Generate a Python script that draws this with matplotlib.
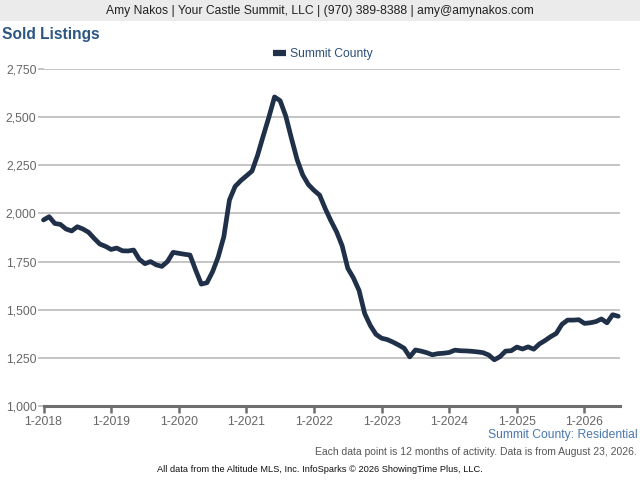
import matplotlib
matplotlib.use("Agg")
import matplotlib.pyplot as plt
from matplotlib.patches import Rectangle

plt.rcParams['font.family'] = ['Liberation Sans', 'DejaVu Sans']

# Monthly values, Jan 2018 .. Jul 2026 (rolling 12-month sold listings)
sold = [
    1966, 1983, 1948, 1943, 1919, 1909, 1931, 1919, 1902, 1870, 1841, 1829,   # 2018
    1813, 1820, 1806, 1805, 1810, 1762, 1739, 1750, 1733, 1725, 1750, 1798,   # 2019
    1793, 1788, 1784, 1706, 1633, 1640, 1697, 1774, 1879, 2070, 2140, 2170,   # 2020
    2195, 2220, 2303, 2403, 2500, 2605, 2585, 2505, 2390, 2280, 2200, 2150,   # 2021
    2120, 2095, 2025, 1962, 1905, 1832, 1715, 1665, 1600, 1480, 1418, 1372,   # 2022
    1352, 1345, 1332, 1317, 1300, 1255, 1291, 1285, 1277, 1266, 1272, 1274,   # 2023
    1278, 1290, 1287, 1286, 1284, 1281, 1277, 1265, 1240, 1256, 1285, 1287,   # 2024
    1306, 1296, 1307, 1295, 1322, 1340, 1360, 1377, 1424, 1446, 1446, 1448,   # 2025
    1429, 1432, 1438, 1452, 1432, 1474, 1466,                                 # 2026
]
x_labels = ["1-2018", "1-2019", "1-2020", "1-2021", "1-2022",
            "1-2023", "1-2024", "1-2025", "1-2026"]
y_ticks = [1000, 1250, 1500, 1750, 2000, 2250, 2500, 2750]
series_name = "Summit County"

fig = plt.figure(figsize=(6.4, 4.8), dpi=100)
fig.patch.set_facecolor("white")

# header band
fig.patches.append(Rectangle((0, 1 - 21/480), 1, 21/480, transform=fig.transFigure,
                             facecolor="#ebebeb", edgecolor="none", zorder=0))
fig.text(0.5, 1 - 11/480, "Amy Nakos | Your Castle Summit, LLC | (970) 389-8388 | amy@amynakos.com",
         ha="center", va="center", fontsize=8.7, color="#222222")
fig.text(2/640, 1 - 35/480, "Sold Listings", ha="left", va="center",
         fontsize=11.2, fontweight="bold", color="#2c5783")

ax = fig.add_axes([43.5/640, 1 - 406/480, (620 - 43.5)/640, (406 - 69)/480])
months = list(range(len(sold)))
line, = ax.plot(months, sold, color="#1f3048", linewidth=3.4, solid_joinstyle="round",
                solid_capstyle="round", label=series_name, zorder=3, clip_on=False)

ax.set_ylim(1000, 2750)
ax.set_xlim(0, (620 - 43.5) / 5.635)
ax.set_yticks(y_ticks)
ax.set_yticklabels([f"{v:,}" for v in y_ticks])
ax.set_xticks([12 * i for i in range(len(x_labels))])
ax.set_xticklabels(x_labels)

ax.grid(axis="y", color="#b4b4b4", linewidth=1.1)
ax.set_axisbelow(True)
for s in ["top", "right", "left"]:
    ax.spines[s].set_visible(False)
ax.spines["bottom"].set_color("#6e6e6e")
ax.spines["bottom"].set_linewidth(2.2)
ax.spines["bottom"].set_zorder(4)
ax.tick_params(axis="y", length=4, width=1.1, color="#b4b4b4", labelsize=8.8,
               labelcolor="#666666", pad=1)
ax.tick_params(axis="x", length=5, width=1.8, color="#6e6e6e", labelsize=8.8,
               labelcolor="#666666", pad=2)

leg = fig.legend(handles=[line], labels=[series_name], loc="center",
                 bbox_to_anchor=(323/640, 1 - 54/480), frameon=False,
                 fontsize=8.7, handlelength=1.0, handletextpad=0.35, borderpad=0)
for t in leg.get_texts():
    t.set_color("#2c5078")
for h in leg.get_lines():
    h.set_linewidth(4.5)
    h.set_solid_capstyle("butt")

fig.text(638/640, 1 - 435/480, "Summit County: Residential", ha="right", va="center",
         fontsize=8.7, color="#4a78ad")
fig.text(637/640, 1 - 452/480,
         "Each data point is 12 months of activity. Data is from August 23, 2026.",
         ha="right", va="center", fontsize=7.5, color="#555555")
fig.text(320/640, 1 - 470/480,
         "All data from the Altitude MLS, Inc. InfoSparks \u00a9 2026 ShowingTime Plus, LLC.",
         ha="center", va="center", fontsize=6.7, color="#111111")

fig.savefig("out.png", dpi=100)
